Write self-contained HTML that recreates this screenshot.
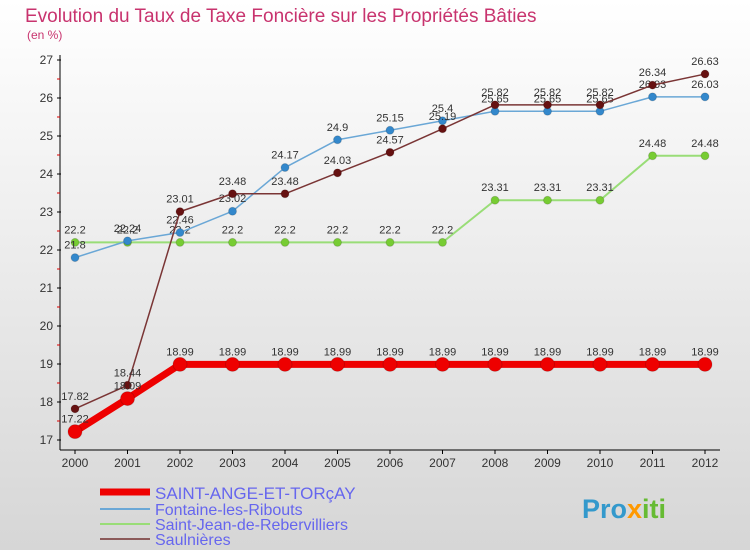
<!DOCTYPE html>
<html><head><meta charset="utf-8"><style>
body{margin:0;width:750px;height:550px;overflow:hidden;font-family:"Liberation Sans",sans-serif}
svg{display:block}
</style></head><body>
<svg width="750" height="550" xmlns="http://www.w3.org/2000/svg" id="c">
<defs><linearGradient id="bg" x1="0" y1="0" x2="0" y2="1"><stop offset="0" stop-color="#ffffff"/><stop offset="1" stop-color="#d6d6d6"/></linearGradient></defs>
<rect x="0" y="0" width="750" height="550" fill="url(#bg)"/>
<text x="25" y="22" font-size="19" fill="#c8336e">Evolution du Taux de Taxe Foncière sur les Propriétés Bâties</text>
<text x="27" y="39" font-size="12" fill="#c8336e">(en %)</text>
<g id="axes"></g><g id="series"></g>
<g>
<line x1="100" y1="492" x2="150" y2="492" stroke="#ee0000" stroke-width="7"/>
<text x="155" y="499" font-size="17" fill="#6666ee">SAINT-ANGE-ET-TORçAY</text>
<line x1="100" y1="509" x2="150" y2="509" stroke="#6aa7d6" stroke-width="2"/>
<text x="155" y="515" font-size="16" fill="#6666ee">Fontaine-les-Ribouts</text>
<line x1="100" y1="524" x2="150" y2="524" stroke="#99dd77" stroke-width="2"/>
<text x="155" y="530" font-size="16" fill="#6666ee">Saint-Jean-de-Rebervilliers</text>
<line x1="100" y1="539" x2="150" y2="539" stroke="#8b5a5a" stroke-width="2"/>
<text x="155" y="545" font-size="16" fill="#6666ee">Saulnières</text>
</g>
<text x="582" y="518" font-size="27" font-weight="bold" fill="#3399cc">Pro<tspan fill="#ff9900">x</tspan><tspan fill="#66bb33">iti</tspan></text>
</svg>
<script>
const years=[2000,2001,2002,2003,2004,2005,2006,2007,2008,2009,2010,2011,2012];
const yTicks=[17,18,19,20,21,22,23,24,25,26,27];
const saintAnge=[17.22,18.09,18.99,18.99,18.99,18.99,18.99,18.99,18.99,18.99,18.99,18.99,18.99];
const fontaine=[21.8,22.24,22.46,23.02,24.17,24.9,25.15,25.4,25.65,25.65,25.65,26.03,26.03];
const saintJean=[22.2,22.2,22.2,22.2,22.2,22.2,22.2,22.2,23.31,23.31,23.31,24.48,24.48];
const saulnieres=[17.82,18.44,23.01,23.48,23.48,24.03,24.57,25.19,25.82,25.82,25.82,26.34,26.63];
const NS="http://www.w3.org/2000/svg";
const xs=i=>75+i*52.5, ys=v=>440-(v-17)*38;
function mk(t,a,p){const e=document.createElementNS(NS,t);for(const k in a)e.setAttribute(k,a[k]);p.appendChild(e);return e;}
const ax=document.getElementById('axes');
let e=mk('line',{x1:60,y1:55,x2:60,y2:450,stroke:'#000','stroke-width':1},ax);


e=mk('line',{x1:60,y1:450,x2:720,y2:450,stroke:'#000','stroke-width':1},ax);


yTicks.forEach(v=>{
 mk('line',{x1:57,y1:ys(v),x2:61,y2:ys(v),stroke:'#000'},ax);
 if(v<27)mk('line',{x1:57,y1:ys(v+0.5),x2:60,y2:ys(v+0.5),stroke:'#d00'},ax);
 const t=mk('text',{x:53,y:ys(v)+4,'font-size':12,fill:'#333','text-anchor':'end'},ax);t.textContent=v;
 
 
});
years.forEach((y,i)=>{
 mk('line',{x1:xs(i),y1:450,x2:xs(i),y2:454,stroke:'#000'},ax);
 const t=mk('text',{x:xs(i),y:467,'font-size':12,fill:'#333','text-anchor':'middle'},ax);t.textContent=y;
 
 
});
const sg=document.getElementById('series');
function draw(arr,name,col,w,r,dot){
 const g=mk('g',{},sg);
 
 
 mk('polyline',{points:arr.map((v,i)=>xs(i)+','+ys(v)).join(' '),fill:'none',stroke:col,'stroke-width':w,'stroke-linejoin':'round'},g);
 arr.forEach((v,i)=>{
  const c=mk('circle',{cx:xs(i),cy:ys(v),r:r,fill:dot,stroke:'rgba(0,0,0,0.15)'},g);
  
  
  const t=mk('text',{x:xs(i),y:ys(v)-9,'font-size':11,fill:'#333','text-anchor':'middle'},g);t.textContent=v;
 });
}
draw(saintJean,'saint-jean-series','#99dd77',2,4,'#77cc33');
draw(fontaine,'fontaine-series','#6aa7d6',1.5,4,'#3388cc');
draw(saulnieres,'saulnieres-series','#7a3535',1.5,4,'#661111');
draw(saintAnge,'saint-ange-series','#ee0000',7,7,'#ee0000');
</script>
</body></html>
